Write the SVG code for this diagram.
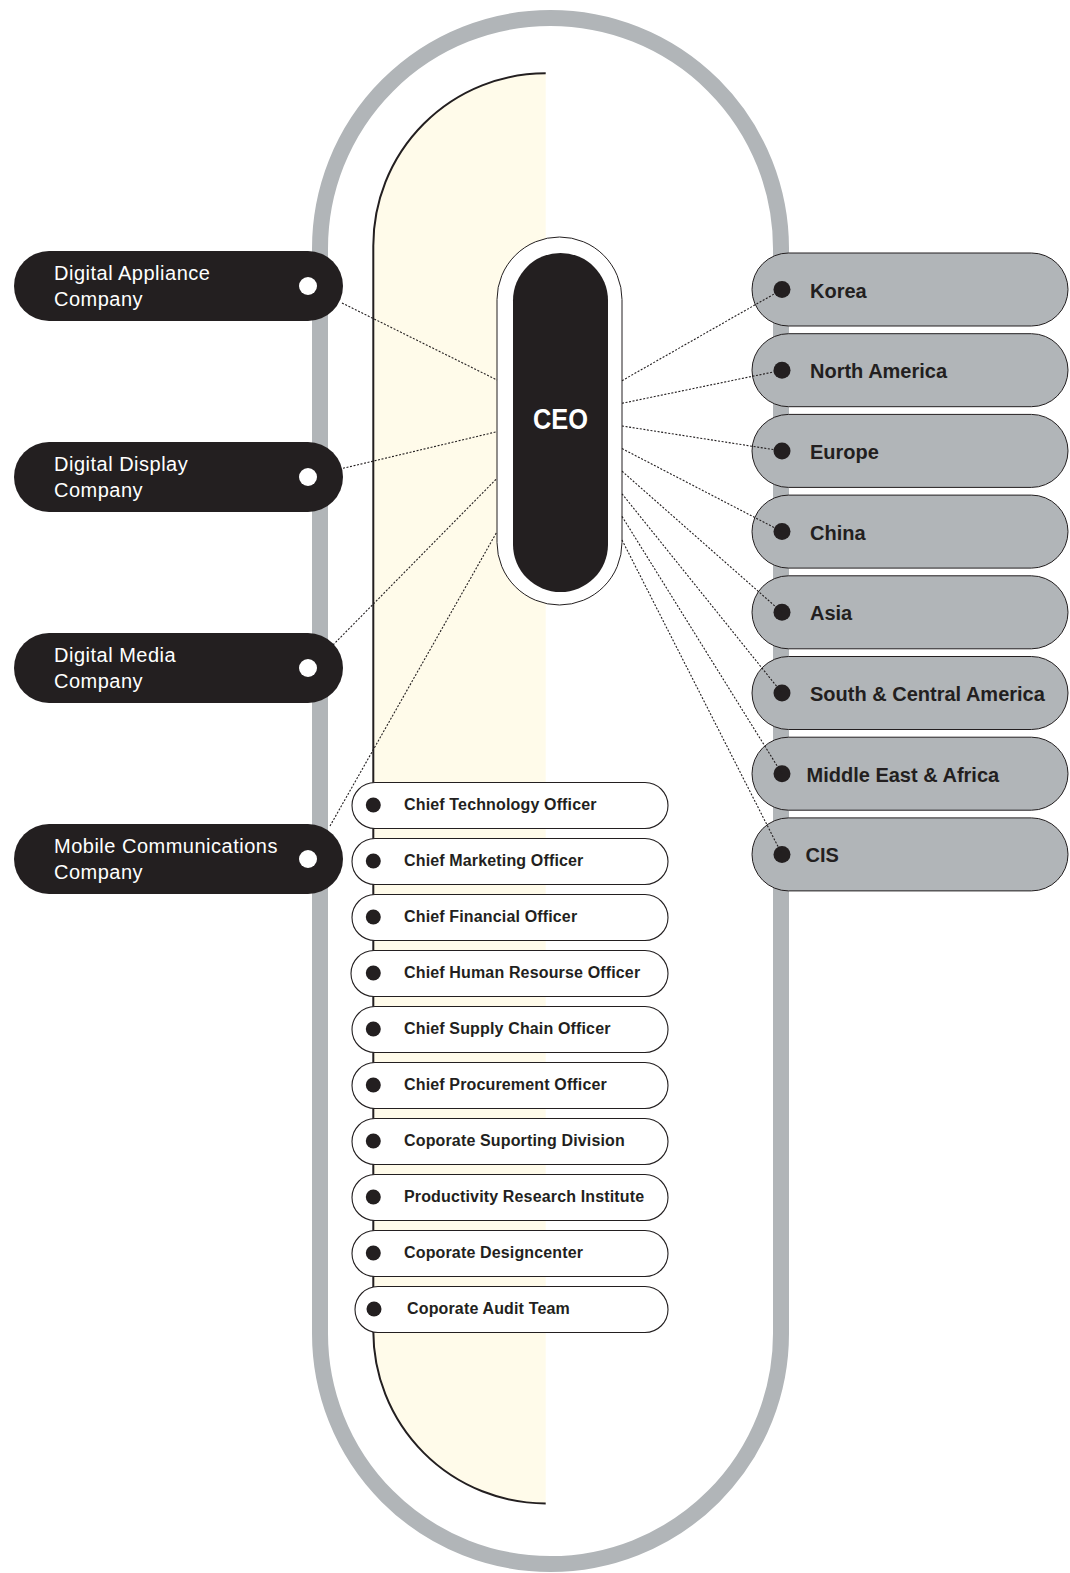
<svg xmlns="http://www.w3.org/2000/svg" width="1070" height="1573" viewBox="0 0 1070 1573">
<style>
.dk{fill:#231f20}
.lt{font-family:"Liberation Sans",Arial,sans-serif;font-size:20px;fill:#ffffff;letter-spacing:0.5px}
.rt{font-family:"Liberation Sans",Arial,sans-serif;font-size:20px;font-weight:bold;fill:#231f20}
.ot{font-family:"Liberation Sans",Arial,sans-serif;font-size:16px;font-weight:bold;fill:#231f20;letter-spacing:0.15px}
.lnode{fill:#231f20}
.rnode{fill:#b1b5b8;stroke:#231f20;stroke-width:1}
.onode{fill:#ffffff;stroke:#231f20;stroke-width:1.1}
.wdot{fill:#ffffff}
.conn line{stroke:#231f20;stroke-width:1.1;stroke-dasharray:2 1.6;fill:none}
</style>
<rect x="0" y="0" width="1070" height="1573" fill="#ffffff"/>
<g id="frame">
<rect x="320" y="18" width="461" height="1546" rx="230.5" ry="230.5" fill="#ffffff" stroke="#b1b5b8" stroke-width="16"/>
<path d="M545.7 73.3 A172.4 172.4 0 0 0 373.3 245.7 L373.3 1331 A172.4 172.4 0 0 0 545.7 1503.4 Z" fill="#fffbea"/>
<path d="M545.7 73.3 A172.4 172.4 0 0 0 373.3 245.7 L373.3 1331 A172.4 172.4 0 0 0 545.7 1503.4" fill="none" stroke="#231f20" stroke-width="2"/>
</g>
<g id="ceo">
<rect x="497" y="237" width="125" height="368" rx="62.5" ry="62.5" fill="#ffffff" stroke="#231f20" stroke-width="1"/>
<rect x="513" y="253" width="95" height="339" rx="47.5" ry="47.5" class="dk"/>
<text x="560.5" y="429" text-anchor="middle" font-family="'Liberation Sans',Arial,sans-serif" font-size="29" font-weight="bold" fill="#ffffff" textLength="55" lengthAdjust="spacingAndGlyphs">CEO</text>
</g>
<g id="officers">
<g id="o1"><rect class="onode" x="352" y="782.5" width="316" height="46" rx="23"/><circle class="dk" cx="373.3" cy="805" r="7.5"/><text class="ot" x="404" y="810">Chief Technology Officer</text></g>
<g id="o2"><rect class="onode" x="352" y="838.5" width="316" height="46" rx="23"/><circle class="dk" cx="373.3" cy="861" r="7.5"/><text class="ot" x="404" y="866">Chief Marketing Officer</text></g>
<g id="o3"><rect class="onode" x="352" y="894.5" width="316" height="46" rx="23"/><circle class="dk" cx="373.3" cy="917" r="7.5"/><text class="ot" x="404" y="922">Chief Financial Officer</text></g>
<g id="o4"><rect class="onode" x="351" y="950.5" width="317" height="46" rx="23"/><circle class="dk" cx="373.3" cy="973" r="7.5"/><text class="ot" x="404" y="978">Chief Human Resourse Officer</text></g>
<g id="o5"><rect class="onode" x="352" y="1006.5" width="316" height="46" rx="23"/><circle class="dk" cx="373.3" cy="1029" r="7.5"/><text class="ot" x="404" y="1034">Chief Supply Chain Officer</text></g>
<g id="o6"><rect class="onode" x="352" y="1062.5" width="316" height="46" rx="23"/><circle class="dk" cx="373.3" cy="1085" r="7.5"/><text class="ot" x="404" y="1090">Chief Procurement Officer</text></g>
<g id="o7"><rect class="onode" x="352" y="1118.5" width="316" height="46" rx="23"/><circle class="dk" cx="373.3" cy="1141" r="7.5"/><text class="ot" x="404" y="1146">Coporate Suporting Division</text></g>
<g id="o8"><rect class="onode" x="352" y="1174.5" width="316" height="46" rx="23"/><circle class="dk" cx="373.3" cy="1197" r="7.5"/><text class="ot" x="404" y="1202">Productivity Research Institute</text></g>
<g id="o9"><rect class="onode" x="352" y="1230.5" width="316" height="46" rx="23"/><circle class="dk" cx="373.3" cy="1253" r="7.5"/><text class="ot" x="404" y="1258">Coporate Designcenter</text></g>
<g id="o10"><rect class="onode" x="355" y="1286.5" width="313" height="46" rx="23"/><circle class="dk" cx="374" cy="1309" r="7.5"/><text class="ot" x="407" y="1314">Coporate Audit Team</text></g>
</g>
<g id="companies">
<g id="c1"><rect class="lnode" x="14" y="251" width="329" height="70" rx="35"/><circle class="wdot" cx="308" cy="286" r="9"/><text class="lt" x="54" y="280">Digital Appliance</text><text class="lt" x="54" y="306">Company</text></g>
<g id="c2"><rect class="lnode" x="14" y="442" width="329" height="70" rx="35"/><circle class="wdot" cx="308" cy="477" r="9"/><text class="lt" x="54" y="471">Digital Display</text><text class="lt" x="54" y="497">Company</text></g>
<g id="c3"><rect class="lnode" x="14" y="633" width="329" height="70" rx="35"/><circle class="wdot" cx="308" cy="668" r="9"/><text class="lt" x="54" y="662">Digital Media</text><text class="lt" x="54" y="688">Company</text></g>
<g id="c4"><rect class="lnode" x="14" y="824" width="329" height="70" rx="35"/><circle class="wdot" cx="308" cy="859" r="9"/><text class="lt" x="54" y="853">Mobile Communications</text><text class="lt" x="54" y="879">Company</text></g>
</g>
<g id="regions">
<g id="r1"><rect class="rnode" x="752" y="253" width="316" height="73" rx="36.5"/><circle class="dk" cx="782" cy="289.5" r="8.5"/><text class="rt" x="810" y="297.5">Korea</text></g>
<g id="r2"><rect class="rnode" x="752" y="333.7" width="316" height="73" rx="36.5"/><circle class="dk" cx="782" cy="370.2" r="8.5"/><text class="rt" x="810" y="378.2">North America</text></g>
<g id="r3"><rect class="rnode" x="752" y="414.4" width="316" height="73" rx="36.5"/><circle class="dk" cx="782" cy="450.9" r="8.5"/><text class="rt" x="810" y="458.9">Europe</text></g>
<g id="r4"><rect class="rnode" x="752" y="495.1" width="316" height="73" rx="36.5"/><circle class="dk" cx="782" cy="531.6" r="8.5"/><text class="rt" x="810" y="539.6">China</text></g>
<g id="r5"><rect class="rnode" x="752" y="575.8" width="316" height="73" rx="36.5"/><circle class="dk" cx="782" cy="612.3" r="8.5"/><text class="rt" x="810" y="620.3">Asia</text></g>
<g id="r6"><rect class="rnode" x="752" y="656.5" width="316" height="73" rx="36.5"/><circle class="dk" cx="782" cy="693" r="8.5"/><text class="rt" x="810" y="701">South &amp; Central America</text></g>
<g id="r7"><rect class="rnode" x="752" y="737.2" width="316" height="73" rx="36.5"/><circle class="dk" cx="782" cy="773.7" r="8.5"/><text class="rt" x="806.5" y="781.7">Middle East &amp; Africa</text></g>
<g id="r8"><rect class="rnode" x="752" y="817.9" width="316" height="73" rx="36.5"/><circle class="dk" cx="782" cy="854.4" r="8.5"/><text class="rt" x="805.5" y="862.4">CIS</text></g>
</g>
<g id="connectors" class="conn">
<line x1="342" y1="303" x2="497" y2="380"/>
<line x1="343" y1="468.3" x2="497" y2="431.7"/>
<line x1="333" y1="645" x2="497" y2="478.3"/>
<line x1="330" y1="826" x2="497" y2="531.7"/>
<line x1="622" y1="380.7" x2="782" y2="289.5"/>
<line x1="622" y1="403.3" x2="782" y2="370.2"/>
<line x1="622" y1="426" x2="782" y2="450.9"/>
<line x1="622" y1="448.6" x2="782" y2="531.6"/>
<line x1="622" y1="471.2" x2="782" y2="612.3"/>
<line x1="622" y1="493.8" x2="782" y2="693"/>
<line x1="622" y1="516.4" x2="782" y2="773.7"/>
<line x1="622" y1="540" x2="782" y2="854.4"/>
</g>
</svg>
